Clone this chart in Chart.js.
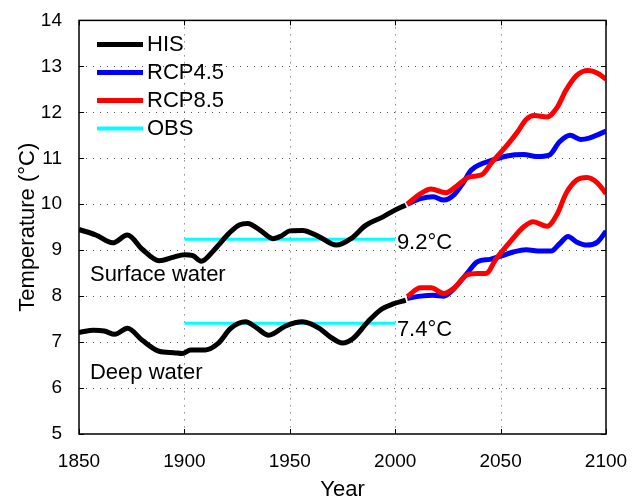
<!DOCTYPE html>
<html>
<head>
<meta charset="utf-8">
<script src="https://cdn.jsdelivr.net/npm/chart.js@4/dist/chart.umd.min.js"></script>
<style>
  html, body { margin: 0; padding: 0; background: #fff; }
  #wrap { width: 638px; height: 501px; }
</style>
</head>
<body>
<div id="wrap"><canvas id="grafico" width="638" height="501"></canvas></div>
<script>
// valores
const surfHisYears = [1850, 1858, 1866, 1873, 1880, 1888, 1895, 1900, 1904, 1908, 1914, 1921, 1926, 1930, 1936, 1942, 1946, 1950, 1956, 1964, 1972, 1979, 1986, 1994, 1999, 2005];
const surfHisTemp  = [9.45, 9.33, 9.16, 9.33, 9.02, 8.77, 8.85, 8.90, 8.88, 8.76, 9.00, 9.36, 9.55, 9.58, 9.43, 9.25, 9.31, 9.42, 9.43, 9.29, 9.11, 9.25, 9.54, 9.72, 9.85, 9.98];

const deepHisYears = [1850, 1857, 1862, 1867, 1873, 1880, 1888, 1895, 1899, 1903, 1910, 1916, 1922, 1929, 1934, 1940, 1948, 1956, 1964, 1969, 1975, 1980, 1987, 1993, 1999, 2005];
const deepHisTemp  = [7.21, 7.26, 7.24, 7.17, 7.30, 7.04, 6.80, 6.77, 6.75, 6.83, 6.83, 6.97, 7.30, 7.44, 7.32, 7.15, 7.35, 7.44, 7.30, 7.12, 6.98, 7.08, 7.44, 7.70, 7.83, 7.91];

const surf85Years = [2005.7, 2012, 2017, 2024, 2029, 2035, 2041, 2046, 2053, 2058, 2062, 2066, 2072, 2077, 2081, 2086, 2091.5, 2096, 2100];
const surf85Temp  = [10.0, 10.23, 10.33, 10.25, 10.39, 10.59, 10.64, 10.92, 11.28, 11.57, 11.84, 11.93, 11.90, 12.12, 12.48, 12.80, 12.91, 12.85, 12.72];

const surf45Years = [2005.7, 2012, 2018, 2023, 2028, 2032, 2036, 2041, 2046, 2053, 2061, 2067, 2073, 2078, 2083, 2088, 2092, 2100];
const surf45Temp  = [10.0, 10.12, 10.16, 10.09, 10.21, 10.45, 10.74, 10.88, 10.96, 11.05, 11.08, 11.04, 11.07, 11.36, 11.50, 11.41, 11.44, 11.59];

const deep85Years = [2005.7, 2012, 2017, 2023, 2028, 2034, 2039, 2043, 2048, 2054.5, 2061, 2065.5, 2072, 2077, 2081, 2086, 2091, 2096, 2100];
const deep85Temp  = [7.99, 8.18, 8.18, 8.06, 8.18, 8.46, 8.49, 8.49, 8.82, 9.18, 9.51, 9.62, 9.52, 9.80, 10.23, 10.52, 10.58, 10.46, 10.23];

const deep45Years = [2005.7, 2012, 2018, 2023, 2028, 2034, 2039, 2045, 2050, 2056, 2062, 2069, 2074, 2078, 2082, 2086, 2091, 2096, 2100];
const deep45Temp  = [7.95, 8.00, 8.02, 8.00, 8.17, 8.49, 8.75, 8.80, 8.87, 8.96, 9.01, 8.98, 8.98, 9.14, 9.30, 9.18, 9.11, 9.18, 9.41];

const obsYears = [1900, 2000];
const obsSurf  = [9.24, 9.24];
const obsDeep  = [7.41, 7.41];

const xTicks = [1850, 1900, 1950, 2000, 2050, 2100];
const yTicks = [5, 6, 7, 8, 9, 10, 11, 12, 13, 14];

function pontos(xs, ys) {
    return xs.map((x, i) => ({x: x, y: ys[i]}));
}

function serie(label, xs, ys, cor, largura, ordem, legenda) {
    return {
        label: label,
        data: pontos(xs, ys),
        borderColor: cor,
        backgroundColor: cor,
        borderWidth: largura,
        pointRadius: 0,
        showLine: true,
        fill: false,
        cubicInterpolationMode: 'monotone',
        borderCapStyle: 'butt',
        order: ordem,
        noLegend: !legenda
    };
}

const fonte = "'Liberation Sans', Arial, sans-serif";

// grade pontilhada (estilo matlab)
const grade = {
    id: 'grade',
    beforeDatasetsDraw(chart) {
        const ctx = chart.ctx;
        const a = chart.chartArea;
        const sx = chart.scales.x, sy = chart.scales.y;
        ctx.save();
        ctx.strokeStyle = '#555';
        ctx.lineWidth = 1;
        ctx.setLineDash([1, 6]);
        ctx.beginPath();
        xTicks.slice(1, -1).forEach(t => {
            const px = Math.round(sx.getPixelForValue(t)) + 0.5;
            ctx.moveTo(px, a.top); ctx.lineTo(px, a.bottom);
        });
        yTicks.slice(1, -1).forEach(t => {
            const py = Math.round(sy.getPixelForValue(t)) + 0.5;
            ctx.moveTo(a.left, py); ctx.lineTo(a.right, py);
        });
        ctx.stroke();
        ctx.restore();
    }
};

// legenda dentro da area do grafico
const legendaInterna = {
    id: 'legendaInterna',
    afterDraw(chart) {
        const ctx = chart.ctx;
        const area = chart.chartArea;
        let y = area.top + 24;
        ctx.save();
        ctx.font = '22px ' + fonte;
        ctx.textBaseline = 'middle';
        chart.data.datasets.forEach(ds => {
            if (ds.noLegend) return;
            ctx.strokeStyle = ds.borderColor;
            ctx.lineWidth = ds.borderWidth < 4 ? 4 : ds.borderWidth;
            ctx.beginPath();
            ctx.moveTo(area.left + 18, y);
            ctx.lineTo(area.left + 64, y);
            ctx.stroke();
            ctx.fillStyle = '#000';
            ctx.fillText(ds.label, area.left + 68, y + 1);
            y += 28;
        });
        ctx.restore();
    }
};

// caixa, marcas e textos
const caixa = {
    id: 'caixa',
    afterDatasetsDraw(chart) {
        const ctx = chart.ctx;
        const a = chart.chartArea;
        const sx = chart.scales.x, sy = chart.scales.y;
        ctx.save();
        ctx.strokeStyle = '#000';
        ctx.lineWidth = 1.5;
        ctx.strokeRect(a.left, a.top, a.right - a.left, a.bottom - a.top);
        ctx.lineWidth = 1;
        ctx.beginPath();
        xTicks.forEach(t => {
            const px = Math.round(sx.getPixelForValue(t)) + 0.5;
            ctx.moveTo(px, a.bottom); ctx.lineTo(px, a.bottom - 5);
            ctx.moveTo(px, a.top); ctx.lineTo(px, a.top + 5);
        });
        yTicks.forEach(t => {
            const py = Math.round(sy.getPixelForValue(t)) + 0.5;
            ctx.moveTo(a.left, py); ctx.lineTo(a.left + 5, py);
            ctx.moveTo(a.right, py); ctx.lineTo(a.right - 5, py);
        });
        ctx.stroke();

        ctx.fillStyle = '#000';
        ctx.font = '22px ' + fonte;
        ctx.textBaseline = 'middle';
        ctx.fillText('Surface water', sx.getPixelForValue(1855.2), sy.getPixelForValue(8.47));
        ctx.fillText('Deep water', sx.getPixelForValue(1855.2), sy.getPixelForValue(6.32));
        ctx.fillText('9.2°C', sx.getPixelForValue(2000.8), sy.getPixelForValue(9.15));
        ctx.fillText('7.4°C', sx.getPixelForValue(2000.8), sy.getPixelForValue(7.27));
        ctx.restore();
    }
};

const ctx = document.getElementById('grafico').getContext('2d');
const data = {
    datasets: [
        serie('HIS', surfHisYears, surfHisTemp, '#000000', 5, 1, true),
        serie('RCP4.5', surf45Years, surf45Temp, '#0000ff', 5, 3, true),
        serie('RCP8.5', surf85Years, surf85Temp, '#ff0000', 5, 2, true),
        serie('OBS', obsYears, obsSurf, '#00ffff', 3, 4, true),
        serie('HIS', deepHisYears, deepHisTemp, '#000000', 5, 1, false),
        serie('RCP4.5', deep45Years, deep45Temp, '#0000ff', 5, 3, false),
        serie('RCP8.5', deep85Years, deep85Temp, '#ff0000', 5, 2, false),
        serie('OBS', obsYears, obsDeep, '#00ffff', 3, 4, false)
    ]
};

const config = {
    type: 'scatter',
    data,
    options: {
        responsive: false,
        animation: false,
        layout: {padding: {left: 0, right: 32, top: 20, bottom: 0}},
        plugins: {
            legend: {display: false},
            tooltip: {enabled: false}
        },
        scales: {
            x: {
                type: 'linear',
                min: 1850,
                max: 2100,
                afterBuildTicks: s => { s.ticks = xTicks.map(v => ({value: v})); },
                afterFit: s => { s.height = 67; },
                grid: {display: false},
                border: {display: false},
                ticks: {
                    padding: 8,
                    color: '#000',
                    maxRotation: 0,
                    font: {family: fonte, size: 19},
                    callback: v => String(v)
                },
                title: {
                    display: true,
                    text: 'Year',
                    color: '#000',
                    padding: {top: 0, bottom: -2},
                    font: {family: fonte, size: 22}
                }
            },
            y: {
                min: 5,
                max: 14,
                afterBuildTicks: s => { s.ticks = yTicks.map(v => ({value: v})); },
                afterFit: s => { s.width = 79; },
                grid: {display: false},
                border: {display: false},
                ticks: {
                    padding: 9,
                    color: '#000',
                    font: {family: fonte, size: 19}
                },
                title: {
                    display: true,
                    text: 'Temperature (°C)',
                    color: '#000',
                    padding: {top: 15, bottom: 0},
                    font: {family: fonte, size: 22}
                }
            }
        }
    },
    plugins: [grade, caixa, legendaInterna]
};

var myChart = new Chart(ctx, config);
</script>
</body>
</html>
